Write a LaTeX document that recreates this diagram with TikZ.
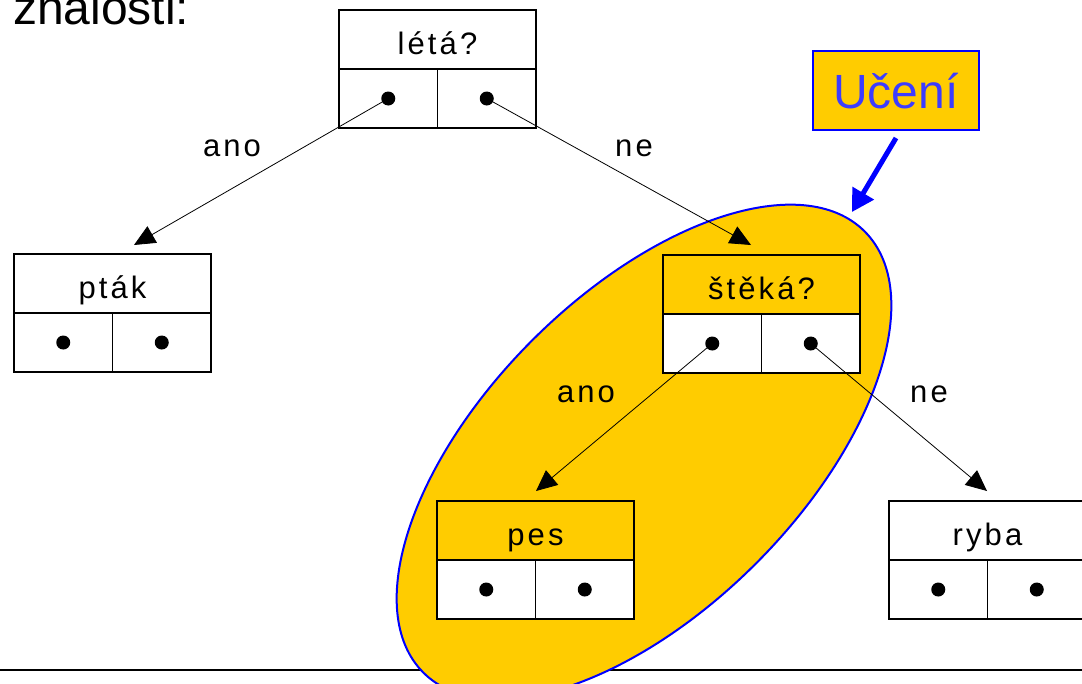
\documentclass[tikz,border=0pt]{standalone}
\usepackage{fontspec}
\setmainfont{Liberation Sans}
\newfontfamily\spaced[LetterSpace=10]{Liberation Sans}
\usetikzlibrary{arrows.meta}
\definecolor{zluta}{RGB}{255,204,0}
\definecolor{modra}{RGB}{0,0,255}
\definecolor{modratext}{RGB}{60,60,255}

% one tree node: header row with the question/answer, two pointer cells below
% #1 name, #2 left x, #3 top y, #4 text, #5 header fill
\newcommand\uzel[5]{%
  \node[headbox, fill=#5, anchor=north west] (#1) at (#2,-#3) {#4};
  \node[cellbox, anchor=north west] (#1-l) at (#1.south west) {};
  \node[cellbox, anchor=north east] (#1-r) at (#1.south east) {};
  \node[dot] (#1-a) at (#1-l.center) {};
  \node[dot] (#1-b) at (#1-r.center) {};
}

\begin{document}
\begin{tikzpicture}[x=1pt, y=1pt,
  headbox/.style={draw, line width=1.8pt, outer sep=0pt, inner sep=0pt,
    minimum width=197pt, minimum height=59pt, text height=36pt, text depth=6pt,
    font=\spaced\fontsize{31}{31}\selectfont},
  cellbox/.style={draw, fill=white, line width=1.8pt, outer sep=0pt, inner sep=0pt,
    minimum width=98.5pt, minimum height=59pt},
  dot/.style={circle, fill=black, inner sep=0pt, minimum size=14pt},
  edge/.style={line width=0.8pt, -{Triangle[length=21pt, width=19pt]}},
  lbl/.style={anchor=base, inner sep=0pt, font=\spaced\fontsize{31}{31}\selectfont},
]
\useasboundingbox (0,0) rectangle (1082,-683);

% heading fragment at the top
\node[anchor=base west, inner sep=0pt, font=\fontsize{48}{48}\selectfont] (nadpis) at (13,-24) {znalosti:};

% rule at the bottom
\coordinate (linL) at (0,-670);
\coordinate (linR) at (1082,-670);
\draw[line width=2pt] (linL) -- (linR);

% highlighted (learned) subtree
\draw[fill=zluta, draw=modra, line width=2pt, rotate around={45:(644,-452)}]
  (644,-452) ellipse [x radius=312pt, y radius=158pt];

% tree nodes
\uzel{leta}{339}{10}{létá?}{white}
\uzel{ptak}{14}{254}{pták}{white}
\uzel{steka}{663}{255}{štěká?}{zluta}
\uzel{pes}{437}{501}{pes}{zluta}
\uzel{ryba}{889}{501}{ryba}{white}

% arrow end points just above the child boxes
\coordinate (kPtak) at (134,-245);
\coordinate (kSteka) at (751,-245);
\coordinate (kPes) at (536,-491);
\coordinate (kRyba) at (987,-491);

\draw[edge] (leta-a.center) -- (kPtak);
\draw[edge] (leta-b.center) -- (kSteka);
\draw[edge] (steka-a.center) -- (kPes);
\draw[edge] (steka-b.center) -- (kRyba);

% branch labels
\node[lbl] (l1) at (232,-156) {ano};
\node[lbl] (l2) at (634,-156) {ne};
\node[lbl] (l3) at (586,-402) {ano};
\node[lbl] (l4) at (929,-402) {ne};

% "Učení" callout
\node[draw=modra, fill=zluta, line width=2pt, outer sep=0pt, inner sep=0pt,
  minimum width=166pt, minimum height=79pt, text height=36pt, text depth=0pt,
  text=modratext, font=\fontsize{48}{48}\selectfont] (uceni) at (896,-90.5) {Učení};
\coordinate (ucA) at (896,-138);
\coordinate (ucB) at (852,-212);
\draw[modra, line width=5pt, -{Triangle[length=22pt, width=24pt]}] (ucA) -- (ucB);
\end{tikzpicture}
\end{document}
